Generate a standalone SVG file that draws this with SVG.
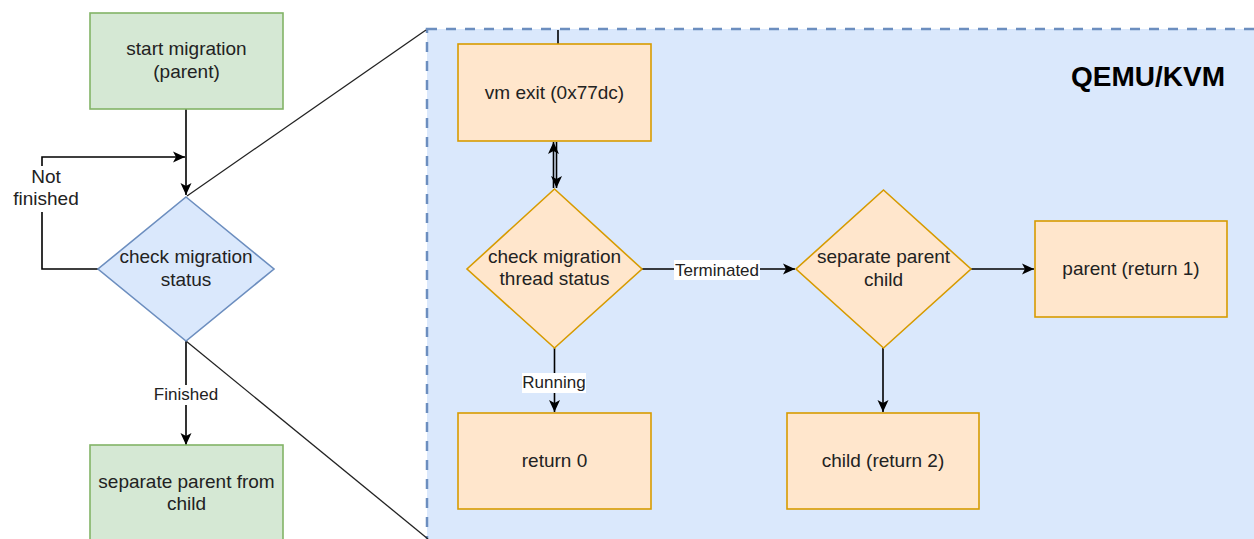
<svg xmlns="http://www.w3.org/2000/svg" width="1254" height="539" viewBox="0 0 1254 539">
  <defs>
    <marker id="arr" markerUnits="userSpaceOnUse" markerWidth="14" markerHeight="14" viewBox="0 0 14 14" refX="13" refY="7" orient="auto">
      <path d="M1,1.5 L13,7 L1,12.5 L4,7 Z" fill="#000"/>
    </marker>
  </defs>
  <style>
    .t { font-family: "Liberation Sans", Arial, sans-serif; font-size: 19px; fill: #222; text-anchor: middle; }
    .lbl { font-family: "Liberation Sans", Arial, sans-serif; font-size: 17px; fill: #222; text-anchor: middle; }
    .green { fill: #d5e8d4; stroke: #82b366; stroke-width: 1.6; }
    .blue { fill: #dae8fc; stroke: #6c8ebf; stroke-width: 1.6; }
    .orange { fill: #ffe6cc; stroke: #d79b00; stroke-width: 1.6; }
    .edge { fill: none; stroke: #000; stroke-width: 1.6; }
    .thin { fill: none; stroke: #222; stroke-width: 1.3; }
    .lblbg { fill: #fff; }
  </style>
  <rect width="1254" height="539" fill="#fff"/>

  <g id="container">
    <rect x="427" y="29" width="840" height="530" fill="#dae8fc" stroke="#6c8ebf" stroke-width="2.5" stroke-dasharray="10 9"/>
    <text x="1148" y="86" style="font-family:'Liberation Sans', Arial, sans-serif; font-size:28px; font-weight:bold; fill:#000; text-anchor:middle">QEMU/KVM</text>
  </g>

  <g id="connectors">
    <!-- zoom lines -->
    <path class="thin" d="M187,196 L426,30"/>
    <path class="thin" d="M186,341 L428,539"/>
    <!-- start -> check -->
    <path class="edge" d="M186,109 L186,195" marker-end="url(#arr)"/>
    <!-- not finished loop -->
    <path class="edge" d="M98,269 L42,269 L42,157 L185,157" marker-end="url(#arr)"/>
    <rect class="lblbg" x="8" y="166" width="76" height="46"/>
    <text class="t" x="46" y="183">Not</text>
    <text class="t" x="46" y="205">finished</text>
    <!-- finished -->
    <path class="edge" d="M186,341 L186,445" marker-end="url(#arr)"/>
    <rect class="lblbg" x="152" y="385" width="68" height="20"/>
    <text class="lbl" x="186" y="400">Finished</text>
    <!-- stub above vm exit -->
    <path class="edge" d="M558,30 L558,44"/>
    <!-- double arrow vm exit <-> check thread -->
    <path class="edge" d="M553.5,188 L553.5,142" marker-end="url(#arr)"/>
    <path class="edge" d="M556.5,142 L556.5,188" marker-end="url(#arr)"/>
    <!-- terminated -->
    <path class="edge" d="M642,269 L795,269" marker-end="url(#arr)"/>
    <rect class="lblbg" x="674" y="260" width="86" height="20"/>
    <text class="lbl" x="717" y="276">Terminated</text>
    <!-- running -->
    <path class="edge" d="M554.5,348 L554.5,412" marker-end="url(#arr)"/>
    <rect class="lblbg" x="522" y="373" width="64" height="20"/>
    <text class="lbl" x="554" y="388">Running</text>
    <!-- separate -> parent -->
    <path class="edge" d="M971,269 L1034,269" marker-end="url(#arr)"/>
    <!-- separate -> child -->
    <path class="edge" d="M883,348 L883,412" marker-end="url(#arr)"/>
  </g>

  <g id="start">
    <rect class="green" x="90" y="13" width="193" height="96"/>
    <text class="t" x="186.5" y="55">start migration</text>
    <text class="t" x="186.5" y="78">(parent)</text>
  </g>

  <g id="check-status">
    <polygon class="blue" points="186,197 274,269 186,341 98,269"/>
    <text class="t" x="186" y="263">check migration</text>
    <text class="t" x="186" y="286">status</text>
  </g>

  <g id="separate">
    <rect class="green" x="90" y="445" width="193" height="110"/>
    <text class="t" x="186.5" y="488">separate parent from</text>
    <text class="t" x="186.5" y="510">child</text>
  </g>

  <g id="vmexit">
    <rect class="orange" x="458" y="44" width="193" height="97"/>
    <text class="t" x="554.5" y="99">vm exit (0x77dc)</text>
  </g>

  <g id="check-thread">
    <polygon class="orange" points="554.5,189 642,269 554.5,348 467,269"/>
    <text class="t" x="554.5" y="263">check migration</text>
    <text class="t" x="554.5" y="285">thread status</text>
  </g>

  <g id="return0">
    <rect class="orange" x="458" y="413" width="193" height="96"/>
    <text class="t" x="554.5" y="467">return 0</text>
  </g>

  <g id="separate-parent-child">
    <polygon class="orange" points="883.5,190 971,269 883.5,348 796,269"/>
    <text class="t" x="883.5" y="263">separate parent</text>
    <text class="t" x="883.5" y="286">child</text>
  </g>

  <g id="parent">
    <rect class="orange" x="1035" y="221" width="192" height="96"/>
    <text class="t" x="1131" y="275">parent (return 1)</text>
  </g>

  <g id="child">
    <rect class="orange" x="787" y="413" width="192" height="96"/>
    <text class="t" x="883" y="467">child (return 2)</text>
  </g>
</svg>
